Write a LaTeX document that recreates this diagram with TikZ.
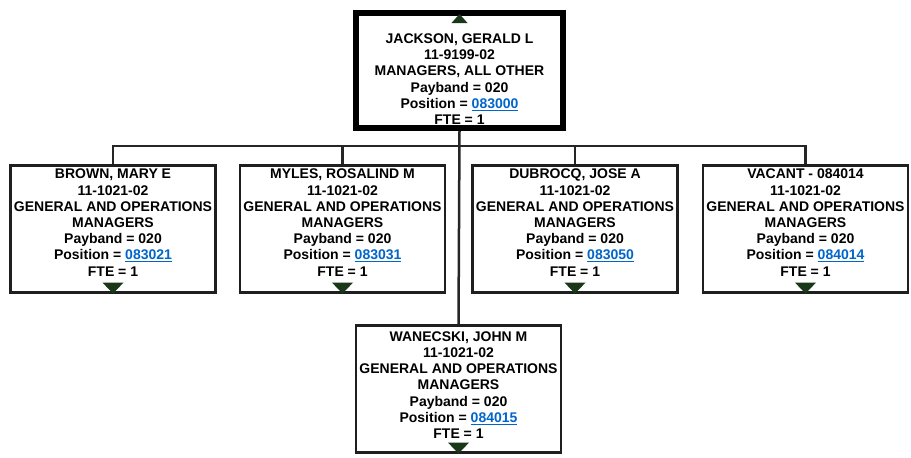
\documentclass[tikz,border=0pt]{standalone}
\usepackage{fontspec}
\setmainfont{Liberation Sans}
\usetikzlibrary{positioning}
\definecolor{linkblue}{RGB}{0,102,204}
\definecolor{arrowgreen}{RGB}{24,56,24}
\newcommand{\poslink}[1]{\textcolor{linkblue}{\underline{#1}}}

\begin{document}
\begin{tikzpicture}[x=1pt,y=-1pt,
    emp/.style={draw=black!88, fill=white, line width=2.2pt, minimum width=205pt, minimum height=127pt, inner sep=0pt},
    boss/.style={emp, draw=black, line width=6pt, minimum width=207pt, minimum height=115pt},
    info/.style={anchor=north, align=center, inner sep=0pt, font=\fontsize{14}{16.2}\selectfont\bfseries},
    link/.style={draw=black!85, line width=2.5pt},
    more/.style={fill=arrowgreen}]
  \useasboundingbox (0,0) rectangle (911,458);

  % boxes
  \node[boss] (jackson) at (459.5,70.5) {};
  \node[emp] (brown) at (113,229) {};
  \node[emp] (myles) at (342.5,229) {};
  \node[emp] (dubrocq) at (575,229) {};
  \node[emp] (vacant) at (805.5,229) {};
  \node[emp] (wanecski) at (458.5,389) {};

  % texts
  \node[info] (jacksonTxt) at ([yshift=-23.5pt]jackson.north) {JACKSON, GERALD L\\11-9199-02\\MANAGERS, ALL OTHER\\Payband = 020\\Position = \poslink{083000}\\FTE = 1};
  \node[info] (brownTxt) at ([yshift=-4.5pt]brown.north) {BROWN, MARY E\\11-1021-02\\GENERAL AND OPERATIONS\\MANAGERS\\Payband = 020\\Position = \poslink{083021}\\FTE = 1};
  \node[info] (mylesTxt) at ([yshift=-4.5pt]myles.north) {MYLES, ROSALIND M\\11-1021-02\\GENERAL AND OPERATIONS\\MANAGERS\\Payband = 020\\Position = \poslink{083031}\\FTE = 1};
  \node[info] (dubrocqTxt) at ([yshift=-4.5pt]dubrocq.north) {DUBROCQ, JOSE A\\11-1021-02\\GENERAL AND OPERATIONS\\MANAGERS\\Payband = 020\\Position = \poslink{083050}\\FTE = 1};
  \node[info] (vacantTxt) at ([yshift=-4.5pt]vacant.north) {VACANT - 084014\\11-1021-02\\GENERAL AND OPERATIONS\\MANAGERS\\Payband = 020\\Position = \poslink{084014}\\FTE = 1};
  \node[info] (wanecskiTxt) at ([yshift=-7pt]wanecski.north) {WANECSKI, JOHN M\\11-1021-02\\GENERAL AND OPERATIONS\\MANAGERS\\Payband = 020\\Position = \poslink{084015}\\FTE = 1};

  % up / down markers
  \fill[more] ([yshift=-4pt]jackson.north) -- ++(8,9) -- ++(-16,0) -- cycle;
  \foreach \n in {brown,myles,dubrocq,vacant,wanecski}
    \fill[more] (\n.south) -- ++(-10.5,-11) -- ++(21,0) -- cycle;

  % reporting lines
  \coordinate (bus) at (459,146);
  \draw[link] (jackson.south) -- (wanecski.north);
  \draw[link] (brown.north) |- (bus) -| (vacant.north);
  \draw[link] (myles.north) -- (myles.north |- bus);
  \draw[link] (dubrocq.north) -- (dubrocq.north |- bus);
\end{tikzpicture}
\end{document}
